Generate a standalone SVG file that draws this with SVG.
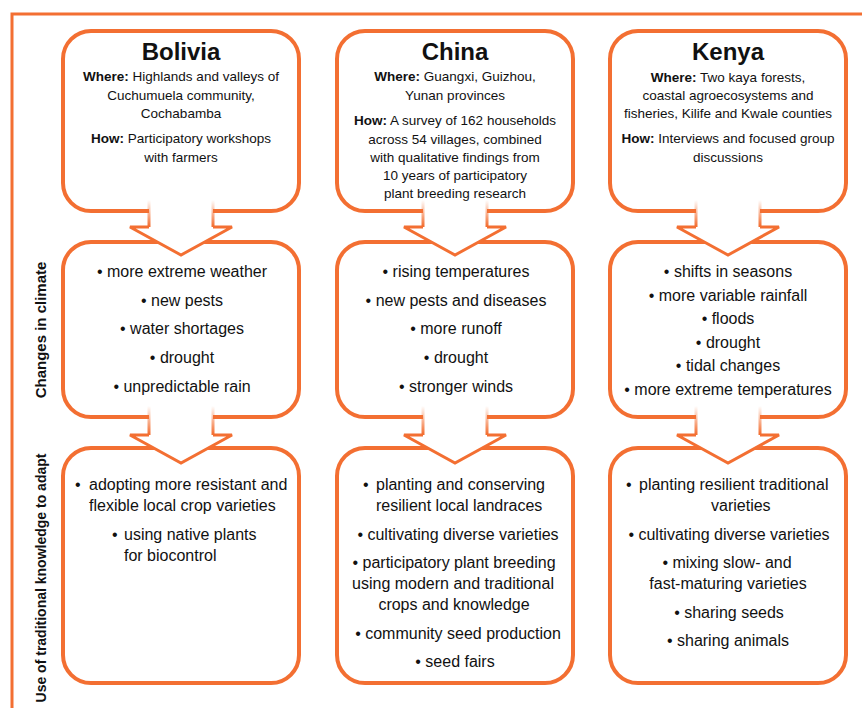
<svg xmlns="http://www.w3.org/2000/svg" width="862" height="708" viewBox="0 0 862 708">
  <defs>
    <style>
      .frame { fill: none; stroke: #F36F32; stroke-width: 3; }
      .box { fill: #ffffff; stroke: #F36F32; stroke-width: 4; }
      .arrow-fill { fill: #ffffff; stroke: none; }
      .arrow-head { fill: none; stroke: #F36F32; stroke-width: 3; stroke-linejoin: miter; }
      text { font-family: "Liberation Sans", Arial, sans-serif; fill: #111111; }
      .title { font-size: 24px; font-weight: bold; text-anchor: middle; }
      .info { font-size: 13.5px; text-anchor: middle; }
      .info .b { font-weight: bold; }
      .item { font-size: 16px; text-anchor: middle; }
      .item-l { font-size: 16px; text-anchor: start; }
      .side { font-weight: bold; text-anchor: middle; }
    </style>
    <!-- stems of the arrows fade in from white as they leave the box above -->
    <linearGradient id="stemFade1" gradientUnits="userSpaceOnUse" x1="0" y1="200" x2="0" y2="226">
      <stop offset="0" stop-color="#F36F32" stop-opacity="0"/>
      <stop offset="1" stop-color="#F36F32" stop-opacity="1"/>
    </linearGradient>
    <linearGradient id="stemFade2" gradientUnits="userSpaceOnUse" x1="0" y1="406" x2="0" y2="434">
      <stop offset="0" stop-color="#F36F32" stop-opacity="0"/>
      <stop offset="1" stop-color="#F36F32" stop-opacity="1"/>
    </linearGradient>
  </defs>

  <!-- outer frame: top rule and left rule -->
  <path class="frame" d="M862,14 H12 V708"/>

  <!-- row labels -->
  <g id="row-labels">
    <text class="side" font-size="15" transform="translate(46,330) rotate(-90)">Changes in climate</text>
    <text class="side" font-size="14" transform="translate(46,578) rotate(-90)">Use of traditional knowledge to adapt</text>
  </g>

  <!-- Bolivia column -->
  <g id="bolivia-study">
    <rect class="box" x="63" y="31" width="236" height="180" rx="28"/>
    <text class="title" x="181" y="60">Bolivia</text>
    <text class="info" x="181" y="81"><tspan class="b">Where:</tspan> Highlands and valleys of</text>
    <text class="info" x="181" y="99.5">Cuchumuela community,</text>
    <text class="info" x="181" y="118">Cochabamba</text>
    <text class="info" x="181" y="143"><tspan class="b">How:</tspan> Participatory workshops</text>
    <text class="info" x="181" y="162">with farmers</text>
  </g>
  <g id="bolivia-climate">
    <rect class="box" x="63" y="242" width="236" height="175" rx="28"/>
    <text class="item" x="182" y="277">• more extreme weather</text>
    <text class="item" x="182" y="306">• new pests</text>
    <text class="item" x="182" y="334">• water shortages</text>
    <text class="item" x="182" y="363">• drought</text>
    <text class="item" x="182" y="392">• unpredictable rain</text>
  </g>
  <g id="bolivia-adapt">
    <rect class="box" x="63" y="448" width="236" height="235" rx="28"/>
    <text class="item-l" y="490"><tspan x="75">•</tspan><tspan x="89">adopting more resistant and</tspan></text>
    <text class="item-l" x="89" y="511">flexible local crop varieties</text>
    <text class="item-l" y="540"><tspan x="112">•</tspan><tspan x="124">using native plants</tspan></text>
    <text class="item-l" x="124" y="561">for biocontrol</text>
  </g>

  <!-- China column -->
  <g id="china-study">
    <rect class="box" x="337" y="31" width="236" height="180" rx="28"/>
    <text class="title" x="455" y="60">China</text>
    <text class="info" x="455" y="81"><tspan class="b">Where:</tspan> Guangxi, Guizhou,</text>
    <text class="info" x="455" y="100">Yunan provinces</text>
    <text class="info" x="455" y="125"><tspan class="b">How:</tspan> A survey of 162 households</text>
    <text class="info" x="455" y="143.5">across 54 villages, combined</text>
    <text class="info" x="455" y="162">with qualitative findings from</text>
    <text class="info" x="455" y="180">10 years of participatory</text>
    <text class="info" x="455" y="198">plant breeding research</text>
  </g>
  <g id="china-climate">
    <rect class="box" x="337" y="242" width="236" height="175" rx="28"/>
    <text class="item" x="456" y="277">• rising temperatures</text>
    <text class="item" x="456" y="306">• new pests and diseases</text>
    <text class="item" x="456" y="334">• more runoff</text>
    <text class="item" x="456" y="363">• drought</text>
    <text class="item" x="456" y="392">• stronger winds</text>
  </g>
  <g id="china-adapt">
    <rect class="box" x="337" y="448" width="236" height="235" rx="28"/>
    <text class="item-l" y="490"><tspan x="363">•</tspan><tspan x="376">planting and conserving</tspan></text>
    <text class="item-l" x="376" y="511">resilient local landraces</text>
    <text class="item" x="458" y="540">• cultivating diverse varieties</text>
    <text class="item" x="454" y="568">• participatory plant breeding</text>
    <text class="item" x="453" y="589">using modern and traditional</text>
    <text class="item" x="454" y="610">crops and knowledge</text>
    <text class="item" x="458" y="639">• community seed production</text>
    <text class="item" x="455" y="667">• seed fairs</text>
  </g>

  <!-- Kenya column -->
  <g id="kenya-study">
    <rect class="box" x="610" y="31" width="236" height="180" rx="28"/>
    <text class="title" x="728" y="60">Kenya</text>
    <text class="info" x="728" y="81.5"><tspan class="b">Where:</tspan> Two kaya forests,</text>
    <text class="info" x="728" y="100">coastal agroecosystems and</text>
    <text class="info" x="728" y="118">fisheries, Kilife and Kwale counties</text>
    <text class="info" x="728" y="143"><tspan class="b">How:</tspan> Interviews and focused group</text>
    <text class="info" x="728" y="161.5">discussions</text>
  </g>
  <g id="kenya-climate">
    <rect class="box" x="610" y="242" width="236" height="175" rx="28"/>
    <text class="item" x="728" y="277">• shifts in seasons</text>
    <text class="item" x="728" y="300.5">• more variable rainfall</text>
    <text class="item" x="728" y="324">• floods</text>
    <text class="item" x="728" y="347.5">• drought</text>
    <text class="item" x="728" y="371">• tidal changes</text>
    <text class="item" x="728" y="394.5">• more extreme temperatures</text>
  </g>
  <g id="kenya-adapt">
    <rect class="box" x="610" y="448" width="236" height="235" rx="28"/>
    <text class="item-l" y="490"><tspan x="626">•</tspan><tspan x="639">planting resilient traditional</tspan></text>
    <text class="item-l" x="711" y="511">varieties</text>
    <text class="item" x="729" y="540">• cultivating diverse varieties</text>
    <text class="item" x="727" y="568">• mixing slow- and</text>
    <text class="item" x="728" y="589">fast-maturing varieties</text>
    <text class="item" x="729" y="618">• sharing seeds</text>
    <text class="item" x="728" y="646">• sharing animals</text>
  </g>

  <!-- connectors: block arrows from each box to the one below -->
  <g id="connectors">
    <!-- row 1 -> row 2 -->
    <g id="arrow-bolivia-1">
      <polygon class="arrow-fill" points="149,204 149,227 130,227 181,255 232,227 213,227 213,204"/>
      <path class="arrow-head" d="M149,227 H130 L181,255 L232,227 H213"/>
      <path d="M149,200 V227 M213,200 V227" stroke="url(#stemFade1)" stroke-width="3" fill="none"/>
    </g>
    <g id="arrow-china-1">
      <polygon class="arrow-fill" points="423,204 423,227 404,227 455,255 506,227 487,227 487,204"/>
      <path class="arrow-head" d="M423,227 H404 L455,255 L506,227 H487"/>
      <path d="M423,200 V227 M487,200 V227" stroke="url(#stemFade1)" stroke-width="3" fill="none"/>
    </g>
    <g id="arrow-kenya-1">
      <polygon class="arrow-fill" points="696,204 696,227 677,227 728,255 779,227 760,227 760,204"/>
      <path class="arrow-head" d="M696,227 H677 L728,255 L779,227 H760"/>
      <path d="M696,200 V227 M760,200 V227" stroke="url(#stemFade1)" stroke-width="3" fill="none"/>
    </g>
    <!-- row 2 -> row 3 -->
    <g id="arrow-bolivia-2">
      <polygon class="arrow-fill" points="149,408 149,435 130,435 181,463 232,435 213,435 213,408"/>
      <path class="arrow-head" d="M149,435 H130 L181,463 L232,435 H213"/>
      <path d="M149,406 V435 M213,406 V435" stroke="url(#stemFade2)" stroke-width="3" fill="none"/>
    </g>
    <g id="arrow-china-2">
      <polygon class="arrow-fill" points="423,408 423,435 404,435 455,463 506,435 487,435 487,408"/>
      <path class="arrow-head" d="M423,435 H404 L455,463 L506,435 H487"/>
      <path d="M423,406 V435 M487,406 V435" stroke="url(#stemFade2)" stroke-width="3" fill="none"/>
    </g>
    <g id="arrow-kenya-2">
      <polygon class="arrow-fill" points="696,408 696,435 677,435 728,463 779,435 760,435 760,408"/>
      <path class="arrow-head" d="M696,435 H677 L728,463 L779,435 H760"/>
      <path d="M696,406 V435 M760,406 V435" stroke="url(#stemFade2)" stroke-width="3" fill="none"/>
    </g>
  </g>
</svg>
